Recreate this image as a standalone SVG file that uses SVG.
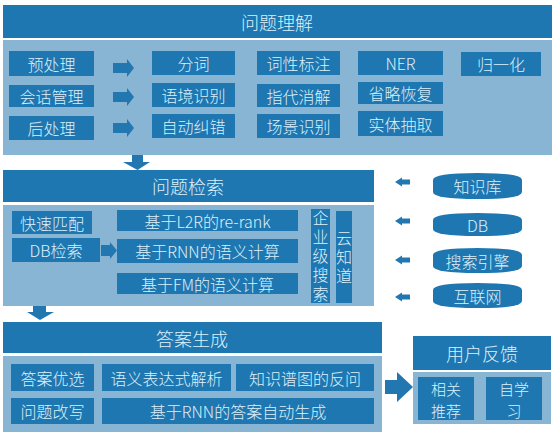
<svg xmlns="http://www.w3.org/2000/svg" xmlns:xlink="http://www.w3.org/1999/xlink" width="555" height="438" viewBox="0 0 555 438">
<style>
.bar{fill:#1f77b1}
.panel{fill:#87b5d3}
.box{fill:#1f77b1}
.arrow{fill:#2377b0}
text{font-family:"Noto Sans CJK SC","Microsoft YaHei",sans-serif;font-weight:300;fill:#dcf0fb;text-anchor:middle;dominant-baseline:central}
.t{font-size:18px}
.b{font-size:16px}
.s{font-size:15px}
.v{font-size:16px;writing-mode:vertical-rl;text-orientation:upright;letter-spacing:3px}
</style>
<defs>
<path id="rarrow" d="M0,-5 L14,-5 L14,-9 L21,0 L14,9 L14,5 L0,5 Z"/>
<path id="larrow" d="M0,0 L7,-4.5 L7,-2.5 L15,-2.5 L15,2.5 L7,2.5 L7,4.5 Z"/>
</defs>
<rect width="555" height="438" fill="#ffffff"/>

<g id="sec1">
<rect class="bar" x="3" y="5" width="549" height="33"/>
<text class="t" x="277" y="21.5">问题理解</text>
<rect class="panel" x="3" y="40" width="549" height="115"/>
</g>
<g id="n-yuchuli"><rect class="box" x="9" y="51" width="85" height="25"/><text class="b" x="51.5" y="63.5">预处理</text></g>
<g id="n-huihua"><rect class="box" x="9" y="85" width="85" height="22"/><text class="b" x="51.5" y="96">会话管理</text></g>
<g id="n-houchuli"><rect class="box" x="9" y="116" width="85" height="24"/><text class="b" x="51.5" y="128">后处理</text></g>
<g id="n-fenci"><rect class="box" x="152" y="51" width="83" height="24"/><text class="b" x="193.5" y="63">分词</text></g>
<g id="n-yujing"><rect class="box" x="152" y="83" width="83" height="24"/><text class="b" x="193.5" y="95">语境识别</text></g>
<g id="n-jiucuo"><rect class="box" x="152" y="114" width="83" height="24"/><text class="b" x="193.5" y="126">自动纠错</text></g>
<g id="n-cixing"><rect class="box" x="257" y="51" width="83" height="24"/><text class="b" x="298.5" y="63">词性标注</text></g>
<g id="n-zhidai"><rect class="box" x="257" y="84" width="83" height="23"/><text class="b" x="298.5" y="95.5">指代消解</text></g>
<g id="n-changjing"><rect class="box" x="257" y="114" width="83" height="24"/><text class="b" x="298.5" y="126">场景识别</text></g>
<g id="n-ner"><rect class="box" x="358" y="51" width="85" height="24"/><text class="b" x="400.5" y="63">NER</text></g>
<g id="n-shenglue"><rect class="box" x="358" y="82" width="85" height="22"/><text class="b" x="400.5" y="93">省略恢复</text></g>
<g id="n-shiti"><rect class="box" x="358" y="111" width="85" height="25"/><text class="b" x="400.5" y="123.5">实体抽取</text></g>
<g id="n-guiyi"><rect class="box" x="461" y="52" width="80" height="24"/><text class="b" x="501" y="64">归一化</text></g>

<g id="sec2">
<rect class="bar" x="3" y="170" width="371" height="32"/>
<text class="t" x="188" y="186">问题检索</text>
<rect class="panel" x="3" y="205" width="371" height="101"/>
</g>
<g id="n-kuaisu"><rect class="box" x="12" y="211" width="80" height="23"/><text class="b" x="52" y="222.5">快速匹配</text></g>
<g id="n-db"><rect class="box" x="12" y="238" width="88" height="24"/><text class="b" x="56" y="250">DB检索</text></g>
<g id="n-l2r"><rect class="box" x="117" y="210" width="181" height="21"/><text class="b" x="207.5" y="220.5">基于L2R的re-rank</text></g>
<g id="n-rnn"><rect class="box" x="117" y="239" width="181" height="24"/><text class="b" x="207.5" y="251">基于RNN的语义计算</text></g>
<g id="n-fm"><rect class="box" x="117" y="273" width="181" height="21"/><text class="b" x="207.5" y="283.5">基于FM的语义计算</text></g>
<g id="n-qiye"><rect class="box" x="311" y="209" width="19" height="94"/>
<text class="v" x="320.5" y="257">企业级搜索</text></g>
<g id="n-yunzhidao"><rect class="box" x="336" y="211" width="16" height="92"/>
<text class="v" x="344" y="258.5">云知道</text></g>

<g id="n-zhishiku"><path class="box" d="M433,180 Q433,173 477.5,173 Q522,173 522,180 L522,192 Q522,199 477.5,199 Q433,199 433,192 Z"/><text class="b" x="477.5" y="186">知识库</text></g>
<g id="n-dbsrc"><path class="box" d="M433,220 Q433,213 477.5,213 Q522,213 522,220 L522,229 Q522,236 477.5,236 Q433,236 433,229 Z"/><text class="b" x="477.5" y="224.5">DB</text></g>
<g id="n-sousuo"><path class="box" d="M433,255 Q433,248 477.5,248 Q522,248 522,255 L522,266 Q522,273 477.5,273 Q433,273 433,266 Z"/><text class="b" x="477.5" y="260.5">搜索引擎</text></g>
<g id="n-hulianwang"><path class="box" d="M433,290 Q433,283 477.5,283 Q522,283 522,290 L522,301 Q522,308 477.5,308 Q433,308 433,301 Z"/><text class="b" x="477.5" y="295.5">互联网</text></g>

<g id="sec3">
<rect class="bar" x="3" y="322" width="379" height="31"/>
<text class="t" x="192" y="337.5">答案生成</text>
<rect class="panel" x="3" y="356" width="379" height="76"/>
</g>
<g id="n-youxuan"><rect class="box" x="11" y="364" width="83" height="27"/><text class="b" x="52.5" y="377.5">答案优选</text></g>
<g id="n-gaixie"><rect class="box" x="11" y="398" width="83" height="26"/><text class="b" x="52.5" y="411">问题改写</text></g>
<g id="n-yuyi"><rect class="box" x="102" y="364" width="129" height="27"/><text class="b" x="166.5" y="377.5">语义表达式解析</text></g>
<g id="n-fanwen"><rect class="box" x="236" y="364" width="138" height="27"/><text class="b" x="305" y="377.5">知识谱图的反问</text></g>
<g id="n-rnnans"><rect class="box" x="102" y="398" width="272" height="26"/><text class="b" x="238" y="411">基于RNN的答案自动生成</text></g>

<g id="sec4">
<rect class="bar" x="413" y="336" width="138" height="34"/>
<text class="t" x="482" y="353">用户反馈</text>
<rect class="panel" x="413" y="372" width="138" height="52"/>
</g>
<g id="n-xiangguan"><rect class="box" x="418" y="377" width="56" height="43"/><text class="s" x="446" y="388">相关</text><text class="s" x="446" y="410">推荐</text></g>
<g id="n-zixuexi"><rect class="box" x="486" y="377" width="56" height="43"/><text class="s" x="514" y="388">自学</text><text class="s" x="514" y="410">习</text></g>

<g id="connectors">
<use href="#rarrow" class="arrow" x="113" y="68"/>
<use href="#rarrow" class="arrow" x="113" y="97"/>
<use href="#rarrow" class="arrow" x="113" y="128"/>
<path class="arrow" d="M132,155 L143,155 L143,162 L150,162 L137.5,170 L123,162 L132,162 Z"/>
<path class="arrow" d="M101,245 L110,245 L110,242 L117,250.5 L110,259 L110,256 L101,256 Z"/>
<use href="#larrow" class="arrow" x="395" y="182"/>
<use href="#larrow" class="arrow" x="395" y="221"/>
<use href="#larrow" class="arrow" x="395" y="260"/>
<use href="#larrow" class="arrow" x="395" y="297"/>
<path class="arrow" d="M33,306 L46,306 L46,312 L54,312 L40,320 L27,312 L33,312 Z"/>
<path class="arrow" d="M385,380 L397,380 L397,372 L413,387 L397,402 L397,394 L385,394 Z"/>
</g>
</svg>
